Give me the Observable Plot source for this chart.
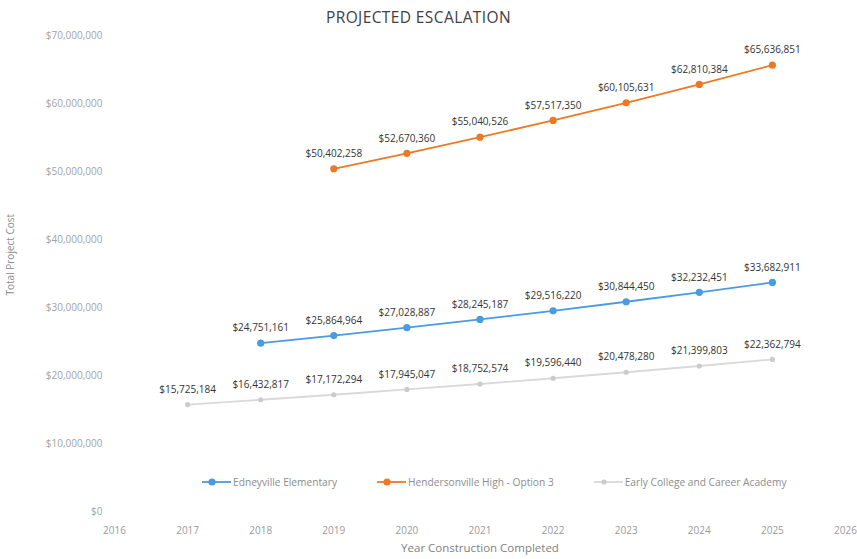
<!DOCTYPE html>
<html>
<head>
<meta charset="utf-8">
<script src="https://cdn.jsdelivr.net/npm/d3@7"></script>
<script src="https://cdn.jsdelivr.net/npm/@observablehq/plot@0.6"></script>
<style>
  body { margin: 0; background: #fff; font-family: "Open Sans", sans-serif; }
  #wrap { position: relative; width: 857px; height: 559px; overflow: hidden; }
  #title {
    box-sizing: border-box; height: 28px; padding-top: 6px; padding-right: 20px;
    line-height: 22px; text-align: center; font-size: 15.5px; color: #404040;
    letter-spacing: 0.4px;
  }
  #legend {
    position: absolute; left: 202px; top: 475px; display: flex; gap: 40px;
    font-size: 10.2px; color: #8c8c8c; align-items: center;
  }
  .item { display: flex; align-items: center; gap: 2px; }
  .item svg { display: block; }
</style>
</head>
<body>
<div id="wrap">
  <div id="title"></div>
  <div id="chart"></div>
  <div id="legend"></div>
</div>
<script>
// Chart text
const chartTitle = "PROJECTED ESCALATION";
const xTitle = "Year Construction Completed";
const yTitle = "Total Project Cost";

// Year completed for each projected value
const years = [2017, 2018, 2019, 2020, 2021, 2022, 2023, 2024, 2025];

// Series names (legend order)
const seriesNames = [
  "Edneyville Elementary",
  "Hendersonville High - Option 3",
  "Early College and Career Academy"
];

// Total project cost by year (null = not projected for that year)
const edneyville = [null, 24751161, 25864964, 27028887, 28245187, 29516220, 30844450, 32232451, 33682911];
const hendersonville = [null, null, 50402258, 52670360, 55040526, 57517350, 60105631, 62810384, 65636851];
const earlyCollege = [15725184, 16432817, 17172294, 17945047, 18752574, 19596440, 20478280, 21399803, 22362794];

// Axis ticks
const xTicks = [2016, 2017, 2018, 2019, 2020, 2021, 2022, 2023, 2024, 2025, 2026];
const yTicks = [0, 10000000, 20000000, 30000000, 40000000, 50000000, 60000000, 70000000];

// Styling per series
const seriesColors = ["#4a9be3", "#ec7a24", "#d9d9d9"];
const markerColors = ["#4a9be3", "#ec7a24", "#cbcbcb"];
const markerRadius = [3.6, 3.6, 2.6];

const valuesBySeries = [edneyville, hendersonville, earlyCollege];
const money = d => "$" + d3.format(",")(d);

const seriesRows = valuesBySeries.map((vals, s) =>
  years.map((year, i) => ({year, value: vals[i], series: seriesNames[s]}))
       .filter(d => d.value != null)
);

document.getElementById("title").textContent = chartTitle;

const marks = [];
// draw grey first so the coloured series sit on top
[2, 0, 1].forEach(s => {
  marks.push(Plot.line(seriesRows[s], {x: "year", y: "value", stroke: seriesColors[s], strokeWidth: 1.8}));
  marks.push(Plot.dot(seriesRows[s], {x: "year", y: "value", r: markerRadius[s], fill: markerColors[s], stroke: "none"}));
  marks.push(Plot.text(seriesRows[s], {
    x: "year", y: "value", text: d => money(d.value), dy: -15,
    fill: "#333333", fontSize: 10
  }));
});

const chart = Plot.plot({
  width: 857,
  height: 531,
  marginTop: 7,
  marginBottom: 48,
  marginLeft: 114,
  marginRight: 12,
  style: {fontFamily: "'Open Sans', sans-serif", fontSize: "10px", background: "#fff"},
  x: {domain: [2016, 2026]},
  y: {domain: [0, 70000000]},
  marks: [
    Plot.axisX({ticks: xTicks, tickFormat: d => String(d), tickSize: 0, tickPadding: 15, color: "#9a9a9a", label: null, fontSize: 10}),
    Plot.axisY({ticks: yTicks, tickFormat: money, tickSize: 0, tickPadding: 12, color: "#a3a3a3", label: null, fontSize: 10}),
    Plot.text([xTitle], {text: d => d, frameAnchor: "bottom", dy: 40, fill: "#7f7f7f", fontSize: 11.5}),
    Plot.text([yTitle], {text: d => d, frameAnchor: "left", rotate: -90, dx: -104, dy: 22, fill: "#8c8c8c", fontSize: 10}),
    ...marks
  ]
});
document.getElementById("chart").appendChild(chart);

// Legend
const legend = d3.select("#legend");
seriesNames.forEach((name, s) => {
  const item = legend.append("div").attr("class", "item");
  const sw = item.append("svg").attr("width", 29).attr("height", 12);
  sw.append("line").attr("x1", 0).attr("x2", 29).attr("y1", 6).attr("y2", 6)
    .attr("stroke", seriesColors[s]).attr("stroke-width", 1.8);
  sw.append("circle").attr("cx", 10).attr("cy", 6).attr("r", markerRadius[s])
    .attr("fill", markerColors[s]);
  item.append("span").text(name);
});
</script>
</body>
</html>
